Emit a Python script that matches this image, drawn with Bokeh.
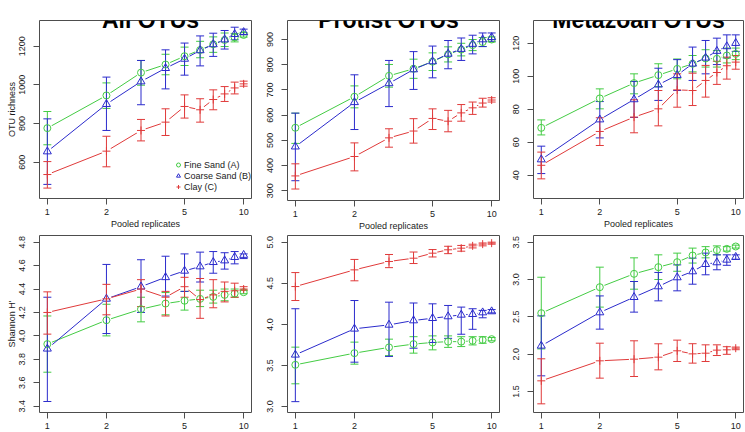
from bokeh.embed import file_html
from bokeh.layouts import column, row
from bokeh.models import (ColumnDataSource, FixedTicker, Label, Legend, LegendItem,
                          PrintfTickFormatter, Range1d)
from bokeh.plotting import figure
from bokeh.resources import INLINE

# ---------------- data ----------------
replicates = [1, 2, 3, 4, 5, 6, 7, 8, 9, 10]
x_ticks = [1, 2, 5, 10]
series_names = ["Fine Sand (A)", "Coarse Sand (B)", "Clay (C)"]
panel_titles = ["All OTUs", "Protist OTUs", "Metazoan OTUs"]
x_axis_title = "Pooled replicates"
richness_title = "OTU richness"
shannon_title = "Shannon H'"

# All OTUs - richness
all_rich_A = [776, 945, 1063, 1105, 1148, 1180, 1210, 1232, 1245, 1258]
all_rich_A_lo = [690, 878, 998, 1052, 1100, 1140, 1168, 1198, 1222, 1247]
all_rich_A_hi = [862, 1010, 1126, 1158, 1195, 1225, 1248, 1268, 1266, 1270]
all_rich_B = [655, 900, 1017, 1086, 1134, 1178, 1209, 1234, 1262, 1272]
all_rich_B_lo = [485, 764, 897, 979, 1050, 1098, 1147, 1185, 1233, 1259]
all_rich_B_hi = [824, 1040, 1126, 1181, 1216, 1253, 1267, 1281, 1298, 1288]
all_rich_C = [536, 657, 764, 807, 888, 871, 924, 953, 984, 1005]
all_rich_C_lo = [466, 576, 710, 738, 828, 807, 871, 914, 953, 993]
all_rich_C_hi = [603, 734, 821, 876, 948, 928, 974, 991, 1014, 1019]

# Protist OTUs - richness
pro_rich_A = [550, 673, 756, 784, 812, 841, 860, 878, 890, 900]
pro_rich_A_lo = [488, 629, 711, 746, 777, 811, 835, 856, 872, 890]
pro_rich_A_hi = [608, 716, 801, 822, 847, 871, 885, 900, 908, 910]
pro_rich_B = [475, 651, 726, 781, 813, 843, 862, 882, 900, 909]
pro_rich_B_lo = [340, 543, 634, 702, 748, 784, 817, 843, 872, 893]
pro_rich_B_hi = [608, 760, 817, 852, 874, 896, 906, 917, 926, 926]
pro_rich_C = [359, 436, 510, 537, 587, 576, 609, 629, 648, 660]
pro_rich_C_lo = [307, 379, 473, 489, 543, 534, 576, 603, 632, 652]
pro_rich_C_hi = [407, 490, 546, 586, 625, 619, 642, 652, 667, 669]

# Metazoan OTUs - richness
met_rich_A = [68.7, 86.5, 95.8, 100.6, 104.4, 107.5, 110.7, 110.5, 112.5, 113.5]
met_rich_A_lo = [64.4, 80.2, 89.3, 93.7, 98.4, 102.6, 105.5, 105.5, 108.0, 110.0]
met_rich_A_hi = [73.5, 92.3, 101.4, 107.5, 110.4, 112.5, 116.0, 115.5, 117.0, 117.0]
met_rich_B = [49.5, 73.7, 85.9, 94.8, 100.6, 107.5, 111.1, 115.2, 118.0, 120.0]
met_rich_B_lo = [41.0, 62.6, 75.0, 85.3, 91.3, 97.4, 101.4, 107.0, 111.0, 115.0]
met_rich_B_hi = [57.6, 84.6, 96.8, 104.8, 110.0, 117.6, 121.6, 123.0, 125.0, 125.0]
met_rich_C = [46.0, 66.5, 75.2, 80.2, 91.7, 91.3, 97.4, 102.2, 106.3, 108.5]
met_rich_C_lo = [37.8, 58.0, 65.7, 69.9, 81.2, 82.2, 87.3, 95.0, 98.2, 104.2]
met_rich_C_hi = [54.0, 74.8, 85.7, 91.3, 101.4, 101.8, 106.5, 109.0, 111.5, 112.5]

# All OTUs - Shannon
all_sha_A = [3.93, 4.134, 4.228, 4.276, 4.30, 4.316, 4.333, 4.35, 4.362, 4.373]
all_sha_A_lo = [3.69, 4.00, 4.12, 4.18, 4.22, 4.25, 4.28, 4.30, 4.33, 4.36]
all_sha_A_hi = [4.17, 4.27, 4.33, 4.37, 4.38, 4.39, 4.39, 4.40, 4.40, 4.39]
all_sha_B = [3.89, 4.316, 4.42, 4.50, 4.555, 4.592, 4.629, 4.643, 4.672, 4.69]
all_sha_B_lo = [3.44, 4.02, 4.20, 4.34, 4.38, 4.46, 4.535, 4.57, 4.615, 4.66]
all_sha_B_hi = [4.33, 4.61, 4.65, 4.68, 4.70, 4.715, 4.72, 4.71, 4.72, 4.70]
all_sha_C = [4.20, 4.316, 4.40, 4.33, 4.42, 4.31, 4.35, 4.38, 4.385, 4.40]
all_sha_C_lo = [4.015, 4.18, 4.25, 4.17, 4.33, 4.15, 4.24, 4.29, 4.33, 4.39]
all_sha_C_hi = [4.376, 4.44, 4.48, 4.38, 4.50, 4.49, 4.48, 4.46, 4.45, 4.42]

# Protist OTUs - Shannon
pro_sha_A = [3.508, 3.65, 3.72, 3.76, 3.78, 3.79, 3.79, 3.80, 3.81, 3.82]
pro_sha_A_lo = [3.277, 3.516, 3.62, 3.65, 3.69, 3.72, 3.73, 3.75, 3.77, 3.80]
pro_sha_A_hi = [3.723, 3.784, 3.82, 3.85, 3.86, 3.86, 3.85, 3.85, 3.85, 3.84]
pro_sha_B = [3.63, 3.946, 3.994, 4.047, 4.075, 4.096, 4.116, 4.124, 4.144, 4.157]
pro_sha_B_lo = [3.06, 3.54, 3.61, 3.71, 3.78, 3.83, 3.88, 3.94, 4.08, 4.14]
pro_sha_B_hi = [4.19, 4.29, 4.27, 4.26, 4.25, 4.23, 4.21, 4.19, 4.17, 4.18]
pro_sha_C = [4.46, 4.663, 4.765, 4.805, 4.866, 4.907, 4.927, 4.955, 4.976, 4.988]
pro_sha_C_lo = [4.29, 4.53, 4.69, 4.74, 4.82, 4.86, 4.89, 4.93, 4.955, 4.975]
pro_sha_C_hi = [4.63, 4.79, 4.85, 4.88, 4.91, 4.95, 4.96, 4.975, 4.99, 5.0]

# Metazoan OTUs - Shannon
met_sha_A = [2.549, 2.897, 3.076, 3.165, 3.232, 3.321, 3.362, 3.393, 3.41, 3.442]
met_sha_A_lo = [2.07, 2.63, 2.87, 3.00, 3.11, 3.22, 3.29, 3.33, 3.38, 3.42]
met_sha_A_hi = [3.03, 3.165, 3.29, 3.33, 3.353, 3.42, 3.44, 3.45, 3.44, 3.46]
met_sha_B = [2.112, 2.558, 2.763, 2.906, 3.027, 3.107, 3.205, 3.228, 3.263, 3.30]
met_sha_B_lo = [1.71, 2.335, 2.563, 2.714, 2.848, 2.937, 3.063, 3.13, 3.19, 3.27]
met_sha_B_hi = [2.513, 2.78, 2.973, 3.094, 3.196, 3.286, 3.353, 3.33, 3.33, 3.33]
met_sha_C = [1.643, 1.911, 1.933, 1.96, 2.045, 2.004, 2.013, 2.054, 2.058, 2.08]
met_sha_C_lo = [1.335, 1.679, 1.701, 1.79, 1.902, 1.88, 1.902, 1.982, 1.998, 2.06]
met_sha_C_hi = [1.938, 2.147, 2.179, 2.139, 2.188, 2.14, 2.125, 2.125, 2.1, 2.095]

# y axis ticks
all_rich_ticks = [600, 800, 1000, 1200]
pro_rich_ticks = [300, 400, 500, 600, 700, 800, 900]
met_rich_ticks = [40, 60, 80, 100, 120]
all_sha_ticks = [3.4, 3.6, 3.8, 4.0, 4.2, 4.4, 4.6, 4.8]
pro_sha_ticks = [3.0, 3.5, 4.0, 4.5, 5.0]
met_sha_ticks = [1.5, 2.0, 2.5, 3.0, 3.5]

# ---------------- style ----------------
FONT = "Liberation Sans"
COLORS = ["#44cc44", "#2b2bcc", "#e03a3a"]
MARKERS = ["circle", "triangle", "cross"]
MSIZES = [7, 8, 8]
FRAME_COLOR = "#4d4d4d"
TEXT_COLOR = "#1a1a1a"


def make_panel(data, y_range, y_ticks, y_fmt, borders, frame_w, frame_h,
               y_label=None, x_label=None, title=None, title_x=0, bar_x=None,
               legend=False):
    bl, br, bt, bb = borders
    p = figure(x_axis_type="log", x_range=Range1d(10 ** -0.04, 10 ** 1.04),
               y_range=Range1d(*y_range), frame_width=frame_w, frame_height=frame_h,
               min_border_left=bl, min_border_right=br, min_border_top=bt,
               min_border_bottom=bb, toolbar_location=None, output_backend="svg",
               background_fill_color="white", border_fill_color="white")
    p.grid.visible = False
    p.outline_line_color = FRAME_COLOR
    p.outline_line_width = 1
    for ax in (p.xaxis[0], p.yaxis[0]):
        ax.axis_line_color = None
        ax.major_tick_in = 0
        ax.major_tick_out = 6
        ax.minor_tick_line_color = None
        ax.major_tick_line_color = FRAME_COLOR
        ax.major_label_text_font = FONT
        ax.major_label_text_font_size = "9px"
        ax.major_label_text_color = TEXT_COLOR
        ax.major_label_standoff = 4
        ax.axis_label_text_font = FONT
        ax.axis_label_text_font_size = "9px"
        ax.axis_label_text_font_style = "normal"
        ax.axis_label_text_color = TEXT_COLOR
    p.xaxis.ticker = FixedTicker(ticks=x_ticks)
    p.xaxis.formatter = PrintfTickFormatter(format="%d")
    p.yaxis.ticker = FixedTicker(ticks=y_ticks)
    p.yaxis.formatter = PrintfTickFormatter(format=y_fmt)
    p.yaxis.major_label_orientation = "vertical"
    p.yaxis.major_label_standoff = 8
    if x_label:
        p.xaxis.axis_label = x_label
        p.xaxis.axis_label_standoff = 1
    if y_label:
        p.yaxis.axis_label = y_label
        p.yaxis.axis_label_standoff = 0

    sources = [ColumnDataSource(dict(x=replicates, m=m, lo=lo, hi=hi)) for (m, lo, hi) in data]
    for src, c in zip(sources, COLORS):
        p.line("x", "m", source=src, line_color=c, line_width=1)
    for src in sources:
        p.scatter("x", "m", source=src, marker="circle", size=10,
                  fill_color="white", line_color=None)
    for src, c in zip(sources, COLORS):
        p.segment(x0="x", y0="lo", x1="x", y1="hi", source=src, line_color=c, line_width=1)
        p.scatter("x", "lo", source=src, marker="dash", size=8, line_color=c, line_width=1)
        p.scatter("x", "hi", source=src, marker="dash", size=8, line_color=c, line_width=1)
    marks = []
    for src, c, mk, ms in zip(sources, COLORS, MARKERS, MSIZES):
        marks.append(p.scatter("x", "m", source=src, marker=mk, size=ms, line_color=c,
                               fill_color=None, line_width=1))
    if legend:
        lg = Legend(items=[LegendItem(label=n, renderers=[r]) for n, r in zip(series_names, marks)],
                    location=(134, 6), padding=0, margin=0, spacing=0,
                    glyph_width=10, glyph_height=11, label_height=11, label_standoff=1,
                    label_text_font=FONT, label_text_font_size="9px",
                    label_text_color=TEXT_COLOR, background_fill_alpha=0,
                    border_line_alpha=0)
        p.add_layout(lg)
    if title:
        p.add_layout(Label(x=title_x, y=frame_h + 1, x_units="screen", y_units="screen",
                           text=title, text_align="center", text_baseline="alphabetic",
                           text_font=FONT, text_font_style="bold",
                           text_font_size="23px", text_color="black"))
    if bar_x is not None:
        p.add_layout(Label(x=bar_x, y=frame_h + 8, x_units="screen", y_units="screen",
                           text="|", text_align="center", text_baseline="alphabetic",
                           text_font=FONT, text_font_size="12px", text_color="black"))
    return p


FH_BOT = 177
bot_b = (2, 21)
col1_lr = (39, 10)
col2_lr = (26, 8)
col3_lr = (26, 2)

tl = make_panel([(all_rich_A, all_rich_A_lo, all_rich_A_hi), (all_rich_B, all_rich_B_lo, all_rich_B_hi),
                 (all_rich_C, all_rich_C_lo, all_rich_C_hi)],
                (412.1, 1332.7), all_rich_ticks, "%d", col1_lr + (20, 34), 212, 178,
                y_label=richness_title, x_label=x_axis_title, title=panel_titles[0], title_x=111,
                legend=True)
tm = make_panel([(pro_rich_A, pro_rich_A_lo, pro_rich_A_hi), (pro_rich_B, pro_rich_B_lo, pro_rich_B_hi),
                 (pro_rich_C, pro_rich_C_lo, pro_rich_C_hi)],
                (261.5, 975.4), pro_rich_ticks, "%d", col2_lr + (20, 32), 212, 180,
                x_label=x_axis_title, title=panel_titles[1], title_x=101, bar_x=-18)
tr = make_panel([(met_rich_A, met_rich_A_lo, met_rich_A_hi), (met_rich_B, met_rich_B_lo, met_rich_B_hi),
                 (met_rich_C, met_rich_C_lo, met_rich_C_hi)],
                (25.9, 133.7), met_rich_ticks, "%d", col3_lr + (20, 34), 210, 178,
                x_label=x_axis_title, title=panel_titles[2], title_x=105, bar_x=-16)
bl = make_panel([(all_sha_A, all_sha_A_lo, all_sha_A_hi), (all_sha_B, all_sha_B_lo, all_sha_B_hi),
                 (all_sha_C, all_sha_C_lo, all_sha_C_hi)],
                (3.346, 4.857), all_sha_ticks, "%.1f", col1_lr + bot_b, 212, FH_BOT,
                y_label=shannon_title)
bm = make_panel([(pro_sha_A, pro_sha_A_lo, pro_sha_A_hi), (pro_sha_B, pro_sha_B_lo, pro_sha_B_hi),
                 (pro_sha_C, pro_sha_C_lo, pro_sha_C_hi)],
                (2.928, 5.081), pro_sha_ticks, "%.1f", col2_lr + bot_b, 212, FH_BOT)
br = make_panel([(met_sha_A, met_sha_A_lo, met_sha_A_hi), (met_sha_B, met_sha_B_lo, met_sha_B_hi),
                 (met_sha_C, met_sha_C_lo, met_sha_C_hi)],
                (1.219, 3.589), met_sha_ticks, "%.1f", col3_lr + bot_b, 210, FH_BOT)

layout = column(row(tl, tm, tr), row(bl, bm, br))

open("out.html", "w").write(file_html(layout, INLINE, title="OTU rarefaction"))
